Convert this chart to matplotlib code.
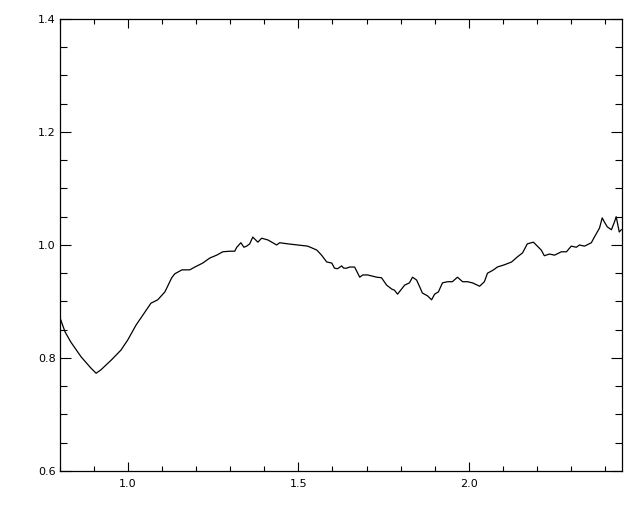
import matplotlib
matplotlib.use('Agg')
import matplotlib.pyplot as plt
from matplotlib.ticker import MultipleLocator

# curve
wave = [0.800, 0.815, 0.832, 0.862, 0.891, 0.906, 0.920, 0.950, 0.979, 0.999,
        1.023, 1.049, 1.067, 1.087, 1.108, 1.128, 1.137, 1.158, 1.181, 1.196,
        1.219, 1.240, 1.260, 1.278, 1.299, 1.313, 1.319, 1.331, 1.340, 1.348,
        1.357, 1.366, 1.381, 1.392, 1.410, 1.422, 1.436, 1.445, 1.469, 1.498,
        1.527, 1.539, 1.554, 1.568, 1.583, 1.598, 1.606, 1.615, 1.627, 1.633,
        1.642, 1.650, 1.665, 1.680, 1.689, 1.703, 1.730, 1.744, 1.759, 1.774,
        1.782, 1.791, 1.812, 1.826, 1.835, 1.847, 1.856, 1.864, 1.879, 1.891,
        1.900, 1.911, 1.923, 1.938, 1.952, 1.967, 1.982, 1.996, 2.011, 2.032,
        2.046, 2.055, 2.073, 2.084, 2.105, 2.126, 2.143, 2.158, 2.172, 2.190,
        2.213, 2.222, 2.237, 2.252, 2.272, 2.287, 2.301, 2.316, 2.325, 2.340,
        2.360, 2.369, 2.384, 2.392, 2.398, 2.407, 2.419, 2.428, 2.433, 2.442,
        2.448]
ratio = [0.871, 0.846, 0.828, 0.802, 0.782, 0.773, 0.779, 0.796, 0.814, 0.832,
         0.858, 0.881, 0.897, 0.903, 0.917, 0.942, 0.949, 0.956, 0.956, 0.961,
         0.968, 0.977, 0.982, 0.988, 0.989, 0.989, 0.996, 1.004, 0.996, 0.998,
         1.002, 1.014, 1.005, 1.012, 1.009, 1.005, 1.000, 1.004, 1.002, 1.000,
         0.998, 0.995, 0.991, 0.982, 0.970, 0.968, 0.959, 0.958, 0.963, 0.959,
         0.959, 0.961, 0.961, 0.943, 0.947, 0.947, 0.943, 0.942, 0.929, 0.922,
         0.920, 0.913, 0.929, 0.933, 0.943, 0.938, 0.926, 0.915, 0.910, 0.903,
         0.913, 0.917, 0.933, 0.935, 0.935, 0.943, 0.935, 0.935, 0.933, 0.927,
         0.935, 0.950, 0.956, 0.961, 0.965, 0.970, 0.979, 0.986, 1.002, 1.005,
         0.991, 0.981, 0.984, 0.982, 0.988, 0.988, 0.998, 0.996, 1.000, 0.998,
         1.004, 1.014, 1.030, 1.048, 1.041, 1.032, 1.027, 1.041, 1.050, 1.023,
         1.027]

fig = plt.figure(figsize=(6.4, 5.12), dpi=100)
ax = fig.add_axes([0.09375, 0.0801, 0.8781, 0.8828])

ax.plot(wave, ratio, color='black', linewidth=0.9)

ax.set_xlim(0.8, 2.45)
ax.set_ylim(0.6, 1.4)

ax.xaxis.set_major_locator(MultipleLocator(0.5))
ax.xaxis.set_minor_locator(MultipleLocator(0.1))
ax.yaxis.set_major_locator(MultipleLocator(0.2))
ax.yaxis.set_minor_locator(MultipleLocator(0.05))
ax.xaxis.set_major_formatter(plt.FormatStrFormatter('%.1f'))
ax.yaxis.set_major_formatter(plt.FormatStrFormatter('%.1f'))

ax.tick_params(axis='both', which='both', direction='in', top=True, right=True,
               width=0.8, labelsize=8)
ax.tick_params(axis='x', which='major', length=6.5, pad=6)
ax.tick_params(axis='x', which='minor', length=3.6)
ax.tick_params(axis='y', which='major', length=8, pad=3)
ax.tick_params(axis='y', which='minor', length=5)
for s in ax.spines.values():
    s.set_linewidth(0.9)

fig.savefig('out.png', dpi=100)
